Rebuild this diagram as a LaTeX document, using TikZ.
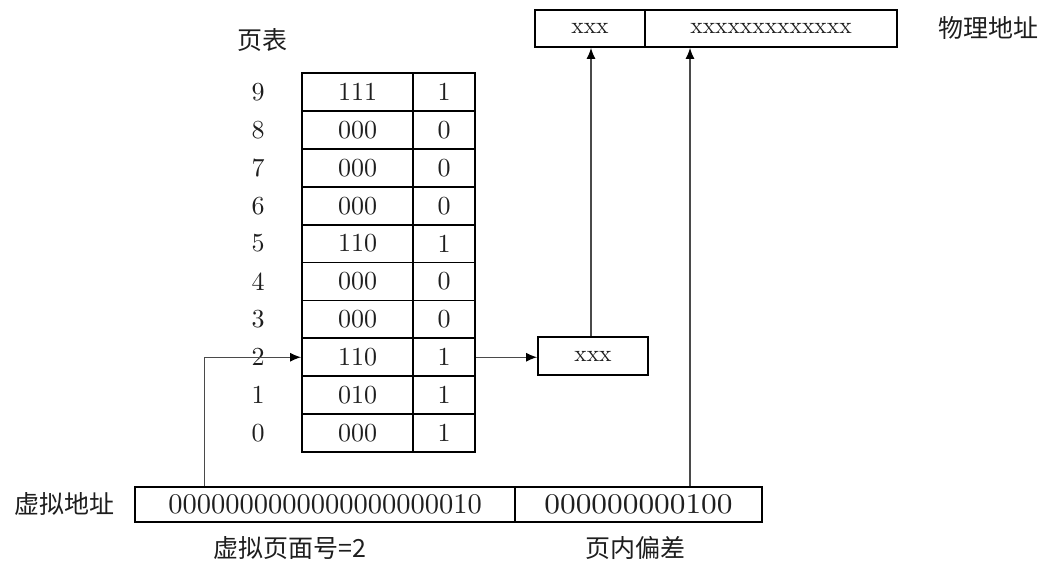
\documentclass[tikz,border=0pt]{standalone}
\usepackage{fontspec}
\setmainfont{lmroman10-regular}[Extension=.otf]
\newfontfamily\cjk{Noto Sans CJK SC}
\usetikzlibrary{arrows.meta}
\definecolor{ink}{HTML}{1E1E1E}
\definecolor{wire}{HTML}{4A4A4A}
\begin{document}
\begin{tikzpicture}[x=1pt,y=-1pt,
  box/.style={draw=black, line width=1.8pt, inner sep=0pt, text=ink},
  cell/.style={box, minimum height=37.9pt, font=\fontsize{26}{26}\selectfont},
  idx/.style={text=ink, font=\fontsize{26}{26}\selectfont},
  cjklabel/.style={text=ink, font=\cjk\fontsize{25}{25}\selectfont},
  xfont/.style={font=\fontsize{23.5}{23.5}\selectfont},
  conn/.style={draw=wire, line width=1.2pt, -{Latex[length=11pt,width=9pt,black]}}
]
\useasboundingbox (0,0) rectangle (1042,567);

\node[cjklabel] (pt) at (262,40) {页表};

\foreach \i/\a/\b in {9/111/1,8/000/0,7/000/0,6/000/0,5/110/1,4/000/0,3/000/0,2/110/1,1/010/1,0/000/1}{
  \pgfmathsetmacro{\yc}{73+(9-\i+0.5)*37.9}
  \node[cell, minimum width=111pt] (p\i) at (357.5,\yc) {\a};
  \node[cell, minimum width=62pt] (v\i) at (444,\yc) {\b};
  \node[idx] (n\i) at (258,\yc) {\i};
}

\node[box, minimum width=110pt, minimum height=38pt, xfont] (frame) at (593,356) {xxx};

\node[box, minimum width=110pt, minimum height=37pt, xfont] (pf) at (590,28.5) {xxx};
\node[box, minimum width=252pt, minimum height=37pt, xfont] (po) at (771,28.5) {xxxxxxxxxxxxx};
\node[cjklabel] (pa) at (988,28) {物理地址};

\node[box, minimum width=380pt, minimum height=35pt, font=\fontsize{28.5}{28.5}\selectfont] (vpn) at (325,504.5) {0000000000000000000010};
\node[box, minimum width=247pt, minimum height=35pt, font=\fontsize{28.5}{28.5}\selectfont] (off) at (638.5,504.5) {\scalebox{1.1}[1]{000000000100}};
\node[cjklabel] (va) at (64,504) {虚拟地址};
\node[cjklabel] (vpnl) at (290,548) {虚拟页面号=2};
\node[cjklabel] (offl) at (635,548) {页内偏差};

\draw[conn] ([xshift=70pt]vpn.north west) |- (p2.west);
\draw[conn] (v2.east) -- (v2.east -| frame.west);
\draw[conn] ([xshift=-2pt]frame.north) -- ([xshift=-2pt]frame.north |- pf.south);
\draw[conn] ([xshift=51.5pt]off.north) -- ([xshift=51.5pt]off.north |- po.south);
\end{tikzpicture}
\end{document}
